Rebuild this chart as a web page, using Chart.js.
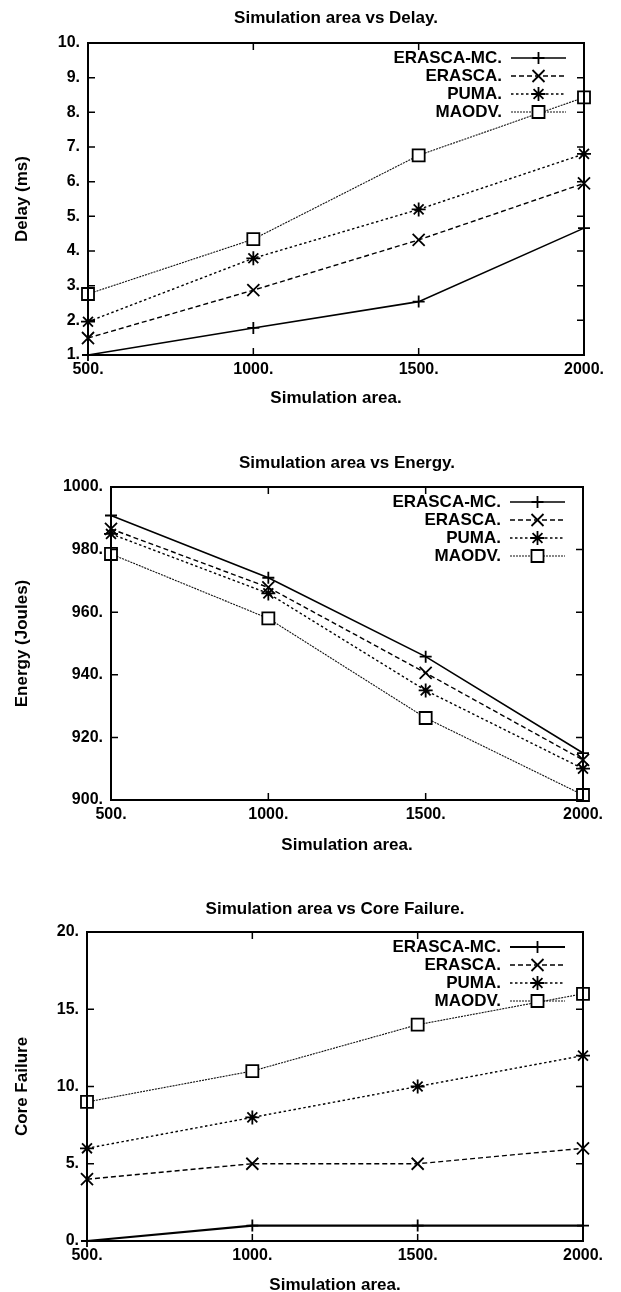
<!DOCTYPE html>
<html>
<head>
<meta charset="utf-8">
<title>Simulation area</title>
<script src="https://cdn.jsdelivr.net/npm/chart.js@4.4.1/dist/chart.umd.min.js"></script>
<style>
    body { margin: 0; background: #fff; }
    .grafica { position: absolute; left: 0; width: 621px; }
</style>
</head>
<body>
<div class="grafica" style="top:0px;height:420px"><canvas id="graficaDelay"></canvas></div>
<div class="grafica" style="top:420px;height:430px"><canvas id="graficaEnergia"></canvas></div>
<div class="grafica" style="top:850px;height:442px"><canvas id="graficaFallos"></canvas></div>
<script>
// Datos
const areas = [500, 1000, 1500, 2000];
const protocolos = ["ERASCA-MC.", "ERASCA.", "PUMA.", "MAODV."];

const delayErascaMC = [1.0, 1.78, 2.54, 4.66];
const delayErasca = [1.49, 2.87, 4.32, 5.95];
const delayPuma = [1.96, 3.79, 5.2, 6.8];
const delayMaodv = [2.76, 4.34, 6.76, 8.43];

const energiaErascaMC = [990.9, 971, 945.8, 915];
const energiaErasca = [986.6, 967.9, 940.6, 912.8];
const energiaPuma = [985, 966, 935, 910];
const energiaMaodv = [978.6, 958, 926.2, 901.6];

const fallosErascaMC = [0, 1, 1, 1];
const fallosErasca = [4, 5, 5, 6];
const fallosPuma = [6, 8, 10, 12];
const fallosMaodv = [9, 11, 14, 16];

const ticksDelay = [1, 2, 3, 4, 5, 6, 7, 8, 9, 10];
const ticksEnergia = [900, 920, 940, 960, 980, 1000];
const ticksFallos = [0, 5, 10, 15, 20];

const fuente = "'Liberation Sans', Arial, sans-serif";
Chart.defaults.font.family = fuente;
Chart.defaults.color = "#000";

// estilo de cada protocolo (linea y marcador)
const estilos = [
    { color: "#000", borderDash: [], borderWidth: 1.6, pointStyle: "cross", pointRadius: 6 },
    { color: "#000", borderDash: [5, 3], borderWidth: 1.4, pointStyle: "crossRot", pointRadius: 8.5 },
    { color: "#000", borderDash: [2.5, 2.5], borderWidth: 1.4, pointStyle: "star", pointRadius: 7 },
    { color: "#111", borderDash: [2, 1], borderWidth: 1.1, pointStyle: "rect", pointRadius: 8.5 },
];

// marco completo con marcas hacia dentro
const marco = {
    id: "marco",
    afterDatasetsDraw(chart) {
        const { ctx, chartArea: a, scales } = chart;
        const largo = 7;
        ctx.save();
        ctx.strokeStyle = "#000";
        ctx.lineWidth = 2;
        ctx.setLineDash([]);
        ctx.strokeRect(a.left, a.top, a.right - a.left, a.bottom - a.top);
        ctx.lineWidth = 1.5;
        ctx.beginPath();
        scales.x.ticks.forEach(t => {
            const x = scales.x.getPixelForValue(t.value);
            ctx.moveTo(x, a.bottom); ctx.lineTo(x, a.bottom - largo);
            ctx.moveTo(x, a.top); ctx.lineTo(x, a.top + largo);
        });
        scales.y.ticks.forEach(t => {
            const y = scales.y.getPixelForValue(t.value);
            ctx.moveTo(a.left, y); ctx.lineTo(a.left + largo, y);
            ctx.moveTo(a.right, y); ctx.lineTo(a.right - largo, y);
        });
        ctx.stroke();
        ctx.restore();
    },
};

// leyenda estilo gnuplot: texto a la derecha y muestra de linea
const leyenda = {
    id: "leyendaGnuplot",
    afterDraw(chart) {
        const { ctx, chartArea: a } = chart;
        ctx.save();
        ctx.font = "bold 17px " + fuente;
        ctx.textAlign = "right";
        ctx.textBaseline = "middle";
        chart.data.datasets.forEach((ds, i) => {
            const y = a.top + 15 + i * 18;
            const xTexto = a.right - 82;
            const x0 = a.right - 73, x1 = a.right - 18;
            ctx.fillStyle = "#000";
            ctx.fillText(ds.label, xTexto, y);
            ctx.strokeStyle = ds.borderColor;
            ctx.lineWidth = ds.borderWidth;
            ctx.setLineDash(ds.borderDash);
            ctx.beginPath();
            ctx.moveTo(x0, y);
            ctx.lineTo(x1, y);
            ctx.stroke();
            ctx.setLineDash([]);
            ctx.strokeStyle = ds.pointBorderColor;
            ctx.lineWidth = ds.pointBorderWidth;
            ctx.fillStyle = ds.pointBackgroundColor;
            Chart.helpers.drawPoint(ctx, {
                pointStyle: ds.pointStyle,
                radius: ds.pointRadius,
                borderWidth: ds.pointBorderWidth,
                rotation: 0,
            }, (x0 + x1) / 2, y);
        });
        ctx.restore();
    },
};

function crearGrafica(id, titulo, ejeY, series, ticksY, caja) {
    const ctx = document.getElementById(id).getContext("2d");
    const medioLinea = 17 * 1.2 / 2;

    new Chart(ctx, {
        type: "line",
        data: {
            datasets: series.map((valores, i) => ({
                label: protocolos[i],
                data: areas.map((a, j) => ({ x: a, y: valores[j] })),
                borderColor: estilos[i].color,
                pointBorderColor: "#000",
                pointBackgroundColor: "#fff",
                pointBorderWidth: 1.8,
                borderWidth: caja.grosorMC && i === 0 ? caja.grosorMC : estilos[i].borderWidth,
                borderDash: estilos[i].borderDash,
                pointStyle: estilos[i].pointStyle,
                pointRadius: estilos[i].pointRadius,
                tension: 0,
                fill: false,
                clip: false,
            })),
        },
        options: {
            responsive: true,
            maintainAspectRatio: false,
            animation: false,
            layout: {
                padding: { left: 0, right: 621 - caja.der, top: 0, bottom: 0 },
            },
            plugins: {
                legend: { display: false },
                tooltip: { enabled: false },
                title: {
                    display: true,
                    text: titulo,
                    fullSize: false,
                    color: "#000",
                    font: { size: 17, weight: "bold" },
                    padding: {
                        top: caja.titulo - medioLinea,
                        bottom: caja.arriba - caja.titulo - medioLinea,
                    },
                },
            },
            scales: {
                x: {
                    type: "linear",
                    min: areas[0],
                    max: areas[areas.length - 1],
                    afterBuildTicks: (scale) => { scale.ticks = areas.map(v => ({ value: v })); },
                    afterFit: (scale) => { scale.height = caja.alto - caja.abajo; },
                    grid: { display: false, drawTicks: false },
                    border: { display: false },
                    ticks: {
                        padding: 5,
                        font: { size: 16, weight: "bold" },
                        callback: (v) => v + ".",
                    },
                    title: {
                        display: true,
                        text: "Simulation area.",
                        font: { size: 17, weight: "bold" },
                        padding: { top: 0, bottom: caja.alto - caja.ejeX - medioLinea },
                    },
                },
                y: {
                    min: ticksY[0],
                    max: ticksY[ticksY.length - 1],
                    afterBuildTicks: (scale) => { scale.ticks = ticksY.map(v => ({ value: v })); },
                    afterFit: (scale) => { scale.width = caja.izq; },
                    grid: { display: false, drawTicks: false },
                    border: { display: false },
                    ticks: {
                        padding: 8,
                        font: { size: 16, weight: "bold" },
                        callback: (v) => v + ".",
                    },
                    title: {
                        display: true,
                        text: ejeY,
                        font: { size: 17, weight: "bold" },
                        padding: { top: 22 - medioLinea, bottom: 0 },
                    },
                },
            },
        },
        plugins: [marco, leyenda],
    });
}

crearGrafica("graficaDelay", "Simulation area vs Delay.", "Delay (ms)",
    [delayErascaMC, delayErasca, delayPuma, delayMaodv], ticksDelay,
    { izq: 88, der: 584, arriba: 43, abajo: 355, alto: 420, titulo: 18, ejeX: 398 });

crearGrafica("graficaEnergia", "Simulation area vs Energy.", "Energy (Joules)",
    [energiaErascaMC, energiaErasca, energiaPuma, energiaMaodv], ticksEnergia,
    { izq: 111, der: 583, arriba: 67, abajo: 380, alto: 430, titulo: 43, ejeX: 425 });

crearGrafica("graficaFallos", "Simulation area vs Core Failure.", "Core Failure",
    [fallosErascaMC, fallosErasca, fallosPuma, fallosMaodv], ticksFallos,
    { izq: 87, der: 583, arriba: 82, abajo: 391, alto: 442, titulo: 59, ejeX: 435, grosorMC: 2.2 });
</script>
</body>
</html>
